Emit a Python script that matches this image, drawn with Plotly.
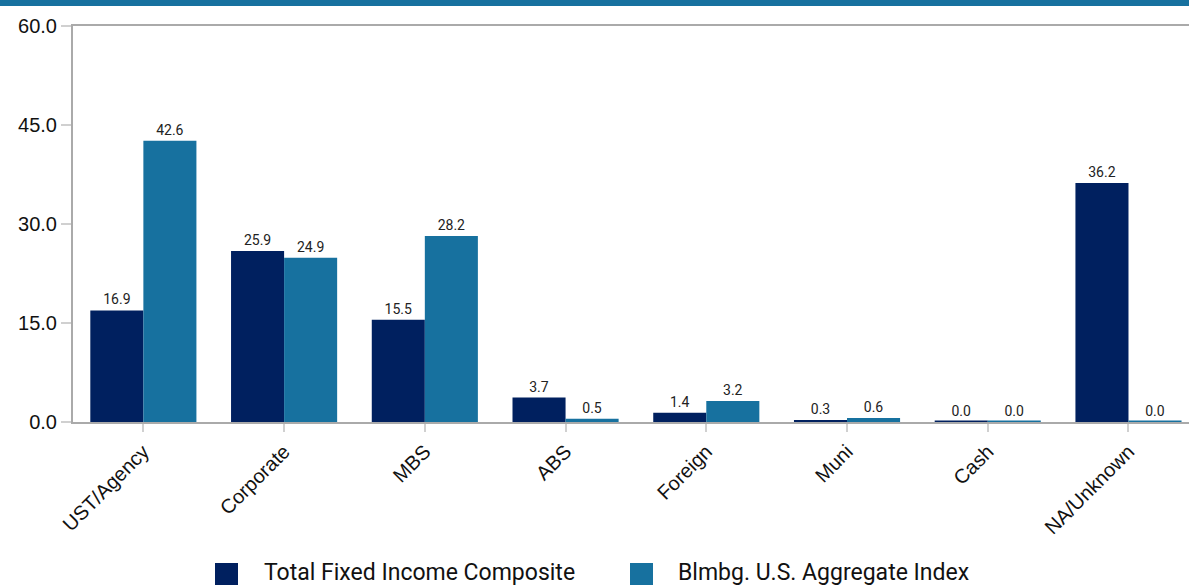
import plotly.graph_objects as go

categories = ["UST/Agency", "Corporate", "MBS", "ABS", "Foreign", "Muni", "Cash", "NA/Unknown"]
composite = [16.9, 25.9, 15.5, 3.7, 1.4, 0.3, 0.0, 36.2]
index_vals = [42.6, 24.9, 28.2, 0.5, 3.2, 0.6, 0.0, 0.0]
series_names = ["Total Fixed Income Composite", "Blmbg. U.S. Aggregate Index"]
y_ticks = [0, 15, 30, 45, 60]

DARK = "#00205f"
BLUE = "#17719f"

fig = go.Figure()
for name, vals, col in [(series_names[0], composite, DARK), (series_names[1], index_vals, BLUE)]:
    fig.add_trace(go.Bar(
        x=categories, y=vals, name=name,
        marker=dict(color=col, line=dict(color=col, width=[3 if v == 0 else 0 for v in vals])),
        text=[f"{v:.1f}" for v in vals], textposition="outside",
        textfont=dict(family="Roboto", size=14, color="#222"),
        cliponaxis=False, showlegend=False,
    ))

fig.update_layout(
    width=1189, height=587,
    margin=dict(l=73, r=0, t=26, b=165),
    paper_bgcolor="white", plot_bgcolor="white",
    barmode="group", bargap=0.246, bargroupgap=0,
    font=dict(family="Liberation Sans, Arial", color="#111"),
    xaxis=dict(
        range=[-0.5, 7.43], showgrid=False, showline=True, linecolor="#aaaaaa", linewidth=2,
        mirror=True, ticks="outside", ticklen=8, tickcolor="#d0d0d0", tickwidth=2,
        tickangle=-45, tickfont=dict(size=20, family="Liberation Sans, Arial", color="#111"),
    ),
    yaxis=dict(
        range=[0, 60], tickvals=y_ticks, ticktext=[f"{t:.1f}" for t in y_ticks],
        showgrid=False, showline=True, linecolor="#aaaaaa", linewidth=2, zeroline=False,
        ticks="outside", ticklen=10, tickcolor="#d0d0d0", tickwidth=2,
        tickfont=dict(size=20, family="Liberation Sans, Arial", color="#111"),
    ),
)

def px_x(px):
    return (px - 73) / 1116
def px_y(py):
    return (422 - py) / 396

# top band
fig.add_shape(type="rect", xref="paper", yref="paper",
              x0=px_x(0), x1=1.0, y0=px_y(6), y1=px_y(-2),
              fillcolor=BLUE, line=dict(width=0), layer="above")

# custom legend
for (sx, tx, name, col) in [(215, 262, series_names[0], DARK), (630, 676, series_names[1], BLUE)]:
    fig.add_shape(type="rect", xref="paper", yref="paper",
                  x0=px_x(sx), x1=px_x(sx + 23), y0=px_y(585), y1=px_y(563),
                  fillcolor=col, line=dict(width=0))
    fig.add_annotation(xref="paper", yref="paper", x=px_x(tx), y=px_y(572),
                       text=name, showarrow=False, xanchor="left", yanchor="middle",
                       font=dict(family="Roboto", size=23, color="#111"))

fig.write_html("out.html", config={"displayModeBar": False},
               post_script="document.body.style.margin='0';document.body.style.overflow='hidden';")
